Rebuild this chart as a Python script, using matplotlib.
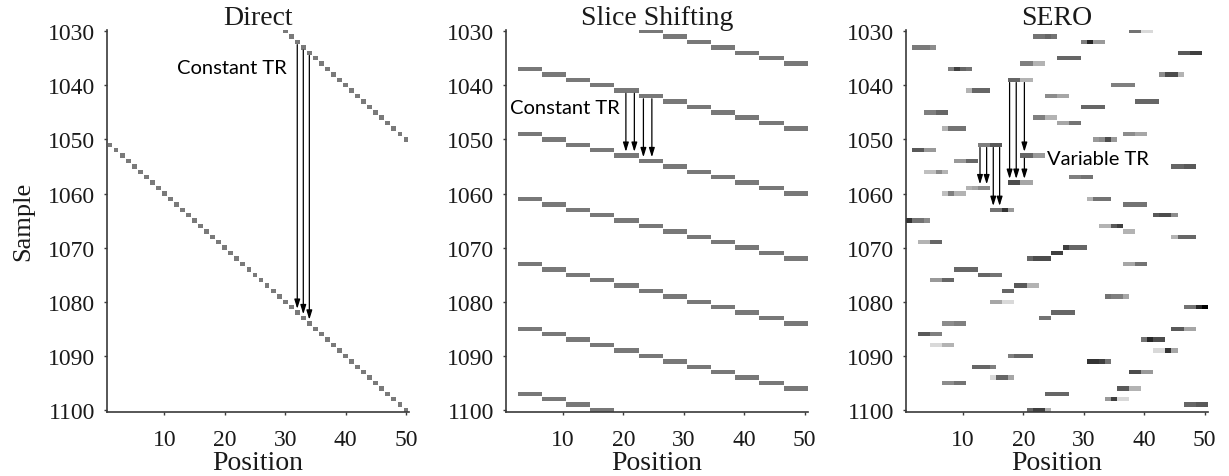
import numpy as np
import matplotlib
matplotlib.use("Agg")
import matplotlib.pyplot as plt

# ---------------- data ----------------
samples = list(range(1030, 1101))          # rows (Sample)
n_positions = 50                           # columns (Position)

# Direct: one cell per sample
direct_pos = [30, 31, 32, 33, 34, 35, 36, 37, 38, 39, 40, 41, 42, 43, 44, 45, 46, 47, 48, 49, 50,
              1, 2, 3, 4, 5, 6, 7, 8, 9, 10, 11, 12, 13, 14, 15, 16, 17, 18, 19, 20,
              21, 22, 23, 24, 25, 26, 27, 28, 29, 30, 31, 32, 33, 34, 35, 36, 37, 38, 39, 40,
              41, 42, 43, 44, 45, 46, 47, 48, 49, 50]
direct_shade = 0.52

# Slice shifting: a 4-position bar per sample (start position)
slice_start = [23, 27, 31, 35, 39, 43, 47,
               3, 7, 11, 15, 19, 23, 27, 31, 35, 39, 43, 47,
               3, 7, 11, 15, 19, 23, 27, 31, 35, 39, 43, 47,
               3, 7, 11, 15, 19, 23, 27, 31, 35, 39, 43, 47,
               3, 7, 11, 15, 19, 23, 27, 31, 35, 39, 43, 47,
               3, 7, 11, 15, 19, 23, 27, 31, 35, 39, 43, 47,
               3, 7, 11, 15]
slice_shade = 0.53

# SERO: a bar per sample with start position and per-cell shades (0 white .. 1 black)
sero_start = [38, 22, 30, 2, 46, 26, 20, 8, 43, 18, 35, 11, 24, 39, 30, 4, 22, 26, 7, 37,
              32, 13, 2, 20, 9, 45, 4, 28, 18, 11, 7, 31, 37, 15, 42, 1, 33, 37, 45, 3,
              27, 25, 21, 37, 9, 13, 5, 19, 17, 34, 15, 47, 25, 23, 7, 45, 3, 40, 5, 42,
              18, 31, 12, 38, 15, 7, 36, 24, 34, 47, 21]
sero_shade = [
    [0.55, 0.55, 0.15, 0.15], [0.55, 0.55, 0.6, 0.55], [0.5, 0.85, 0.4, 0.4], [0.52, 0.52, 0.52, 0.45],
    [0.65, 0.65, 0.75, 0.75], [0.6, 0.6, 0.6, 0.6], [0.5, 0.5, 0.3, 0.3], [0.5, 0.75, 0.6, 0.55],
    [0.45, 0.7, 0.7, 0.3], [0.6, 0.6, 0.3, 0.3], [0.5, 0.5, 0.5, 0.5], [0.3, 0.6, 0.6, 0.6],
    [0.45, 0.45, 0.35, 0.35], [0.6, 0.6, 0.6, 0.6], [0.6, 0.6, 0.6, 0.6], [0.5, 0.5, 0.6, 0.6],
    [0.5, 0.5, 0.3, 0.3], [0.35, 0.35, 0.55, 0.55], [0.3, 0.55, 0.55, 0.55], [0.45, 0.45, 0.35, 0.35],
    [0.4, 0.45, 0.7, 0.4], [0.5, 0.5, 0.65, 0.65], [0.65, 0.65, 0.4, 0.4], [0.6, 0.6, 0.4, 0.4],
    [0.4, 0.4, 0.6, 0.6], [0.6, 0.6, 0.65, 0.65], [0.25, 0.25, 0.45, 0.3], [0.5, 0.5, 0.55, 0.55],
    [0.7, 0.7, 0.35, 0.35], [0.3, 0.35, 0.45, 0.45], [0.25, 0.5, 0.3, 0.3], [0.3, 0.55, 0.55, 0.55],
    [0.55, 0.55, 0.55, 0.55], [0.55, 0.55, 0.8, 0.4], [0.65, 0.7, 0.7, 0.45], [0.8, 0.55, 0.55, 0.45],
    [0.3, 0.3, 0.65, 0.75], [0.3, 0.3, 0.0, 0.0], [0.3, 0.6, 0.6, 0.6], [0.3, 0.3, 0.6, 0.6],
    [0.75, 0.6, 0.6, 0.6], [0.75, 0.75, 0.0, 0.0], [0.6, 0.7, 0.7, 0.7], [0.35, 0.35, 0.55, 0.55],
    [0.6, 0.6, 0.6, 0.6], [0.6, 0.6, 0.55, 0.55], [0.4, 0.4, 0.6, 0.6], [0.65, 0.65, 0.3, 0.3],
    [0.6, 0.6, 0.0, 0.0], [0.55, 0.5, 0.5, 0.35], [0.35, 0.35, 0.15, 0.15], [0.55, 0.55, 0.85, 1.0],
    [0.6, 0.6, 0.6, 0.6], [0.55, 0.55, 0.0, 0.0], [0.45, 0.45, 0.5, 0.5], [0.65, 0.65, 0.35, 0.35],
    [0.65, 0.65, 0.5, 0.5], [0.55, 0.85, 0.7, 0.7], [0.15, 0.15, 0.3, 0.3], [0.15, 0.15, 0.8, 0.35],
    [0.5, 0.6, 0.6, 0.6], [0.8, 0.8, 0.75, 0.55], [0.6, 0.6, 0.6, 0.5], [0.7, 0.7, 0.4, 0.4],
    [0.15, 0.6, 0.6, 0.35], [0.45, 0.45, 0.55, 0.55], [0.65, 0.65, 0.3, 0.3], [0.6, 0.6, 0.6, 0.6],
    [0.4, 0.75, 0.15, 0.15], [0.6, 0.6, 0.65, 0.65], [0.6, 0.75, 0.75, 0.3]]

titles = ["Direct", "Slice Shifting", "SERO"]
x_ticks = [10, 20, 30, 40, 50]
y_ticks = [1030, 1040, 1050, 1060, 1070, 1080, 1090, 1100]

# annotation arrows: (position, from sample, to sample)
direct_arrows = [(32, 1032, 1082), (33, 1033, 1083), (34, 1034, 1084)]
slice_arrows = [(20.4, 1041, 1053), (21.8, 1041, 1053), (23.3, 1042, 1054), (24.7, 1042, 1054)]
sero_arrows = [(12.8, 1051, 1059), (13.9, 1051, 1059), (15.0, 1051, 1063), (16.05, 1051, 1063),
               (17.7, 1039, 1058), (18.8, 1039, 1058), (20.15, 1039, 1053), (20.15, 1053, 1058)]

# ---------------- cells ----------------
cmap = plt.get_cmap("gray_r")
direct_cells = [(direct_pos[i], samples[i], direct_shade) for i in range(len(samples))]
slice_cells = [(slice_start[i] + k, samples[i], slice_shade)
               for i in range(len(samples)) for k in range(4)]
sero_cells = [(sero_start[i] + k, samples[i], v)
              for i in range(len(samples)) for k, v in enumerate(sero_shade[i])
              if v > 0 and sero_start[i] + k <= n_positions]

# ---------------- figure ----------------
serif = "Liberation Serif"
sans = "Lato"
fig = plt.figure(figsize=(12.29, 4.77), dpi=100)
lefts = [107 / 1229, 505.7 / 1229, 905.7 / 1229]
w = 302 / 1229
bottom = 1 - 412.7 / 477
h = (412.7 - 31) / 477

cell_sets = [direct_cells, slice_cells, sero_cells]
cell_w = [0.8, 1.0, 1.0]
cell_h = [0.82, 0.82, 0.82]
axes = []
for j in range(3):
    ax = fig.add_axes([lefts[j], bottom, w, h])
    cells = cell_sets[j]
    ax.barh([c[1] for c in cells], [cell_w[j]] * len(cells),
            left=[c[0] - cell_w[j] / 2 for c in cells], height=cell_h[j],
            color=[cmap(c[2]) for c in cells], linewidth=0)
    ax.set_xlim(0.5, 50.5)
    ax.set_ylim(1100.3, 1029.8)
    ax.set_xticks(x_ticks)
    ax.set_yticks(y_ticks)
    for s in ["top", "right"]:
        ax.spines[s].set_visible(False)
    for s in ["left", "bottom"]:
        ax.spines[s].set_color("#3a3a3a")
        ax.spines[s].set_linewidth(1.2)
    ax.tick_params(length=2.5, width=1, color="#3a3a3a", labelsize=17,
                   labelcolor="#1a1a1a")
    ax.tick_params(axis="x", pad=10)
    ax.tick_params(axis="y", pad=6)
    for lab in ax.get_xticklabels() + ax.get_yticklabels():
        lab.set_fontfamily(serif)
    ax.set_title(titles[j], fontsize=20, family=serif, pad=4, color="#1a1a1a")
    ax.set_xlabel("Position", fontsize=20, family=serif, labelpad=0, color="#1a1a1a")
    axes.append(ax)

axes[0].set_ylabel("Sample", fontsize=19, family=serif, labelpad=10, color="#1a1a1a")

arrow_kw = dict(arrowstyle="-|>,head_length=0.55,head_width=0.17", color="black",
                lw=0.9, mutation_scale=10, shrinkA=0, shrinkB=0)


def draw_arrows(ax, arrows):
    for x, s0, s1 in arrows:
        ax.annotate("", xy=(x, s1 - 0.7), xytext=(x, s0 + 0.5), arrowprops=arrow_kw)


draw_arrows(axes[0], direct_arrows)
draw_arrows(axes[1], slice_arrows)
draw_arrows(axes[2], sero_arrows)

axes[0].text(30.3, 1036.7, "Constant TR", ha="right", va="center", fontsize=14.5, family=sans)
axes[1].text(19.3, 1044.1, "Constant TR", ha="right", va="center", fontsize=14.5, family=sans)
axes[2].text(23.95, 1053.5, "Variable TR", ha="left", va="center", fontsize=14.5, family=sans)

fig.savefig("out.png", dpi=100, facecolor="white")
